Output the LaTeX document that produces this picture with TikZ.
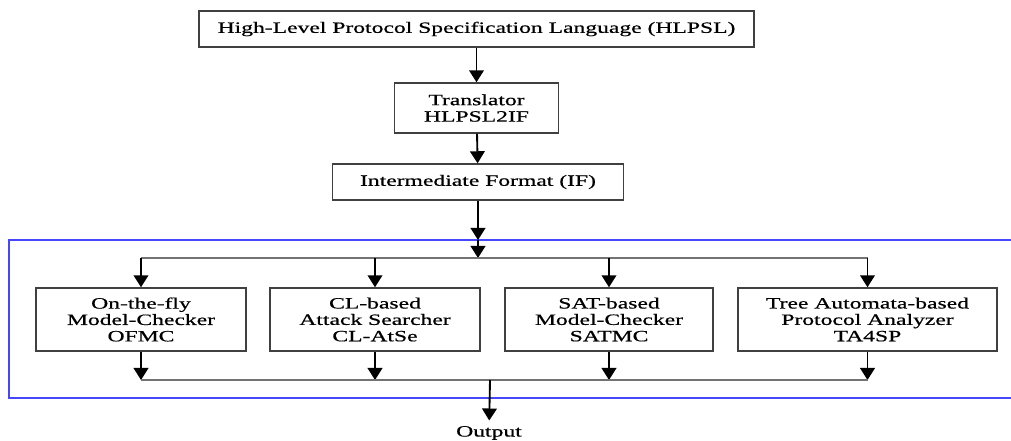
\documentclass[tikz,border=0pt]{standalone}
\usepackage{fontspec}
\setmainfont{Liberation Serif}[FakeStretch=1.5, FakeBold=0.6]
\usepackage{xcolor}
\usetikzlibrary{positioning, arrows.meta}

\definecolor{frameblue}{RGB}{70,70,250}

\begin{document}
\begin{tikzpicture}[x=0.75pt, y=-0.75pt,
            box/.style={draw=black!75, line width=1.1pt, align=center, inner sep=0pt, font=\fontsize{11.8}{12.3}\selectfont},
            arr/.style={-{Triangle[width=11pt,length=9pt]}, line width=1.4pt},
            bus/.style={draw=black!55, line width=1pt}]
            \useasboundingbox (0,0) rectangle (1011,441);

            % analysis frame, open on the right
            \draw[frameblue, line width=1pt] (1015,240) -- (9,240) -- (9,398) -- (1015,398);

            \node[box, minimum width=416pt, minimum height=27pt] (hlpsl) at (476.5,29) {High-Level Protocol Specification Language (HLPSL)};
            \node[box, minimum width=123pt, minimum height=37.5pt] (trans) at (476.5,108) {Translator\\HLPSL2IF};
            \node[box, minimum width=218pt, minimum height=27pt] (inter) at (478,182) {Intermediate Format (IF)};

            \node[box, minimum width=157.5pt, minimum height=47.25pt] (ofmc) at (141,319.5) {On-the-fly\\Model-Checker\\OFMC};
            \node[box, minimum width=157.5pt, minimum height=47.25pt] (atse) at (375,319.5) {CL-based\\Attack Searcher\\CL-AtSe};
            \node[box, minimum width=156pt, minimum height=47.25pt] (satmc) at (609,319.5) {SAT-based\\Model-Checker\\SATMC};
            \node[box, minimum width=194pt, minimum height=47.25pt] (ta4sp) at (867.5,319.5) {Tree Automata-based\\Protocol Analyzer\\TA4SP};

            \node[inner sep=4pt, font=\fontsize{11.8}{12.3}\selectfont] (out) at (489,433) {Output};

            \coordinate (entry) at (478,240);
            \coordinate (split) at (478,258);
            \coordinate (merge) at (490,380);

            \draw[arr] (hlpsl) -- (trans);
            \draw[arr] (trans) -- (inter);
            \draw[arr] (inter) -- (entry);
            \draw[arr] (entry) -- (split);

            % fan out to the back-ends
            \draw[bus] (ofmc.north |- split) -- (ta4sp.north |- split);
            \foreach \tool in {ofmc, atse, satmc, ta4sp}
                \draw[arr] (\tool.north |- split) -- (\tool.north);

            % collect the results
            \foreach \tool in {ofmc, atse, satmc, ta4sp}
                \draw[arr] (\tool.south) -- (\tool.south |- merge);
            \draw[bus] (ofmc.south |- merge) -- (ta4sp.south |- merge);
            \draw[arr] (merge) -- (out);
        \end{tikzpicture}
\end{document}
